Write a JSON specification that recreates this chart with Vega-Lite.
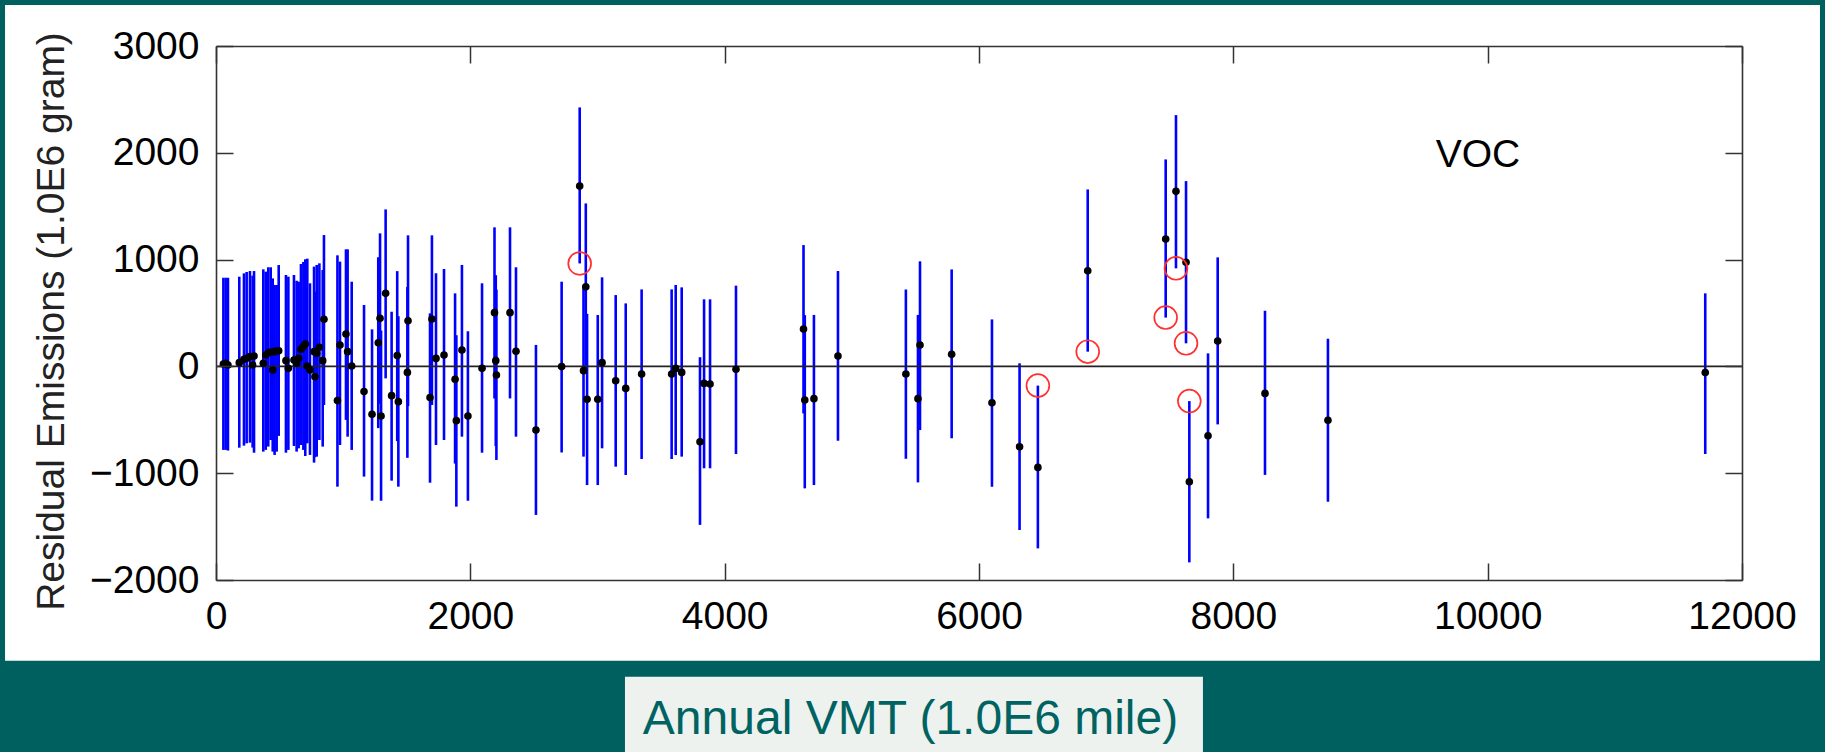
{
  "$schema": "https://vega.github.io/schema/vega-lite/v6.json",
  "width": 1526,
  "height": 534,
  "autosize": {"type": "none"},
  "padding": {"left": 216, "top": 46, "right": 83, "bottom": 172},
  "background": "#006060",
  "config": {"view": {"stroke": null}, "font": "Liberation Sans"},
  "data": {"values": [
    {"x": 58, "y": 22, "lo": -782, "hi": 830},
    {"x": 76, "y": 29, "lo": -782, "hi": 830},
    {"x": 94, "y": 13, "lo": -788, "hi": 830},
    {"x": 183, "y": 35, "lo": -761, "hi": 840},
    {"x": 220, "y": 66, "lo": -742, "hi": 871},
    {"x": 241, "y": 76, "lo": -720, "hi": 884},
    {"x": 267, "y": 91, "lo": -714, "hi": 893},
    {"x": 288, "y": 13, "lo": -760, "hi": 850},
    {"x": 299, "y": 97, "lo": -808, "hi": 893},
    {"x": 372, "y": 29, "lo": -798, "hi": 909},
    {"x": 391, "y": 107, "lo": -782, "hi": 887},
    {"x": 411, "y": 128, "lo": -751, "hi": 928},
    {"x": 430, "y": 135, "lo": -689, "hi": 928},
    {"x": 446, "y": -34, "lo": -798, "hi": 824},
    {"x": 461, "y": 138, "lo": -829, "hi": 762},
    {"x": 477, "y": 144, "lo": -798, "hi": 762},
    {"x": 493, "y": 147, "lo": -651, "hi": 949},
    {"x": 550, "y": 54, "lo": -808, "hi": 856},
    {"x": 569, "y": -18, "lo": -782, "hi": 840},
    {"x": 613, "y": 60, "lo": -745, "hi": 856},
    {"x": 634, "y": 29, "lo": -798, "hi": 802},
    {"x": 650, "y": 76, "lo": -767, "hi": 793},
    {"x": 668, "y": 160, "lo": -736, "hi": 959},
    {"x": 687, "y": 185, "lo": -782, "hi": 978},
    {"x": 702, "y": 210, "lo": -839, "hi": 1003},
    {"x": 718, "y": 4, "lo": -720, "hi": 1009},
    {"x": 739, "y": -34, "lo": -829, "hi": 778},
    {"x": 771, "y": 138, "lo": -901, "hi": 934},
    {"x": 778, "y": -96, "lo": -850, "hi": 700},
    {"x": 792, "y": 122, "lo": -845, "hi": 950},
    {"x": 813, "y": 179, "lo": -689, "hi": 965},
    {"x": 839, "y": 54, "lo": -751, "hi": 903},
    {"x": 849, "y": 441, "lo": -361, "hi": 1230},
    {"x": 955, "y": -320, "lo": -1126, "hi": 1040},
    {"x": 975, "y": 201, "lo": -736, "hi": 981},
    {"x": 1022, "y": 303, "lo": -501, "hi": 1096},
    {"x": 1035, "y": 138, "lo": -658, "hi": 1096},
    {"x": 1067, "y": 4, "lo": -782, "hi": 793},
    {"x": 1164, "y": -236, "lo": -1032, "hi": 575},
    {"x": 1227, "y": -448, "lo": -1257, "hi": 347},
    {"x": 1276, "y": 222, "lo": -578, "hi": 1022},
    {"x": 1290, "y": 450, "lo": -350, "hi": 1246},
    {"x": 1298, "y": -464, "lo": -1258, "hi": 336},
    {"x": 1334, "y": 684, "lo": -112, "hi": 1470},
    {"x": 1381, "y": -274, "lo": -1070, "hi": 512},
    {"x": 1425, "y": 101, "lo": -700, "hi": 892},
    {"x": 1434, "y": -330, "lo": -1126, "hi": 470},
    {"x": 1505, "y": -56, "lo": -856, "hi": 744},
    {"x": 1510, "y": 428, "lo": -372, "hi": 1227},
    {"x": 1683, "y": -292, "lo": -1089, "hi": 497},
    {"x": 1698, "y": 444, "lo": -361, "hi": 1227},
    {"x": 1730, "y": 75, "lo": -736, "hi": 872},
    {"x": 1793, "y": 107, "lo": -689, "hi": 912},
    {"x": 1880, "y": -121, "lo": -910, "hi": 684},
    {"x": 1890, "y": -508, "lo": -1313, "hi": 292},
    {"x": 1934, "y": 154, "lo": -658, "hi": 950},
    {"x": 1981, "y": -464, "lo": -1258, "hi": 329},
    {"x": 2092, "y": -18, "lo": -808, "hi": 778},
    {"x": 2190, "y": 503, "lo": -300, "hi": 1302},
    {"x": 2200, "y": 54, "lo": -746, "hi": 854},
    {"x": 2205, "y": -81, "lo": -876, "hi": 719},
    {"x": 2312, "y": 503, "lo": -300, "hi": 1302},
    {"x": 2359, "y": 141, "lo": -658, "hi": 928},
    {"x": 2516, "y": -595, "lo": -1391, "hi": 201},
    {"x": 2718, "y": -2, "lo": -806, "hi": 793},
    {"x": 2860, "y": 1688, "lo": 964, "hi": 2425, "c": 964},
    {"x": 2890, "y": -40, "lo": -845, "hi": 760},
    {"x": 2908, "y": 746, "lo": -34, "hi": 1526},
    {"x": 2918, "y": -308, "lo": -1111, "hi": 492},
    {"x": 3002, "y": -308, "lo": -1111, "hi": 481},
    {"x": 3036, "y": 35, "lo": -767, "hi": 834},
    {"x": 3143, "y": -134, "lo": -939, "hi": 668},
    {"x": 3222, "y": -206, "lo": -1017, "hi": 590},
    {"x": 3347, "y": -72, "lo": -867, "hi": 721},
    {"x": 3583, "y": -72, "lo": -867, "hi": 721},
    {"x": 3615, "y": -19, "lo": -830, "hi": 762},
    {"x": 3662, "y": -56, "lo": -845, "hi": 740},
    {"x": 3806, "y": -705, "lo": -1484, "hi": 86},
    {"x": 3838, "y": -159, "lo": -954, "hi": 628},
    {"x": 3885, "y": -165, "lo": -954, "hi": 628},
    {"x": 4089, "y": -27, "lo": -820, "hi": 756},
    {"x": 4620, "y": 350, "lo": -440, "hi": 1136},
    {"x": 4630, "y": -315, "lo": -1142, "hi": 480},
    {"x": 4702, "y": -302, "lo": -1111, "hi": 482},
    {"x": 4891, "y": 97, "lo": -696, "hi": 893},
    {"x": 5425, "y": -71, "lo": -865, "hi": 720},
    {"x": 5520, "y": -302, "lo": -1086, "hi": 482},
    {"x": 5536, "y": 200, "lo": -596, "hi": 984},
    {"x": 5785, "y": 113, "lo": -673, "hi": 908},
    {"x": 6102, "y": -340, "lo": -1127, "hi": 440},
    {"x": 6319, "y": -752, "lo": -1532, "hi": 29},
    {"x": 6463, "y": -946, "lo": -1704, "hi": -180, "c": -180},
    {"x": 6855, "y": 896, "lo": 138, "hi": 1657, "c": 138},
    {"x": 7468, "y": 1193, "lo": 457, "hi": 1938, "c": 457},
    {"x": 7549, "y": 1639, "lo": 918, "hi": 2353, "c": 918},
    {"x": 7628, "y": 975, "lo": 216, "hi": 1735, "c": 216},
    {"x": 7654, "y": -1080, "lo": -1835, "hi": -325, "c": -325},
    {"x": 7801, "y": -649, "lo": -1423, "hi": 122},
    {"x": 7877, "y": 238, "lo": -543, "hi": 1021},
    {"x": 8249, "y": -253, "lo": -1016, "hi": 521},
    {"x": 8744, "y": -504, "lo": -1267, "hi": 259},
    {"x": 11711, "y": -57, "lo": -820, "hi": 684}
  ]},
  "layer": [
    {
      "data": {"values": [{}]},
      "mark": {"type": "rect", "fill": "#ffffff", "clip": false},
      "encoding": {
        "x": {"datum": -1659, "type": "quantitative", "scale": {"domain": [0, 12000], "nice": false, "zero": false}, "axis": null},
        "x2": {"datum": 12613},
        "y": {"datum": 3384, "type": "quantitative", "scale": {"domain": [-2000, 3000], "nice": false, "zero": false}, "axis": null},
        "y2": {"datum": -2756}
      }
    },
    {
      "data": {"values": [{}]},
      "mark": {"type": "rect", "fill": "#edf2ef", "clip": false},
      "encoding": {
        "x": {"datum": 3216, "type": "quantitative", "scale": {"domain": [0, 12000], "nice": false, "zero": false}, "axis": null},
        "x2": {"datum": 7761},
        "y": {"datum": -2905, "type": "quantitative", "scale": {"domain": [-2000, 3000], "nice": false, "zero": false}, "axis": null},
        "y2": {"datum": -3700}
      }
    },
    {
      "mark": {"type": "rule", "color": "#0000ff", "strokeWidth": 2.6},
      "encoding": {
        "x": {"field": "x", "type": "quantitative", "scale": {"domain": [0, 12000], "nice": false, "zero": false},
          "axis": {"orient": "bottom", "zindex": 2, "values": [0, 2000, 4000, 6000, 8000, 10000, 12000], "format": "d", "grid": false,
            "tickSize": -17, "tickColor": "#333333", "tickWidth": 1.5, "domainColor": "#333333", "domainWidth": 1.6,
            "labelPadding": 34, "labelFontSize": 39, "labelFont": "Liberation Sans", "labelColor": "#000000", "labelFlush": false, "labelOverlap": false,
            "title": "Annual VMT (1.0E6 mile)", "titleFontSize": 48, "titleFont": "Liberation Sans", "titleFontWeight": "normal", "titleColor": "#006361",
            "titleX": 694, "titleY": 153, "titleAlign": "center", "titleBaseline": "alphabetic"}},
        "y": {"field": "lo", "type": "quantitative", "scale": {"domain": [-2000, 3000], "nice": false, "zero": false},
          "axis": {"orient": "left", "zindex": 2, "values": [-2000, -1000, 0, 1000, 2000, 3000], "format": "d", "grid": false,
            "tickSize": -17, "tickColor": "#333333", "tickWidth": 1.5, "domainColor": "#333333", "domainWidth": 1.6,
            "labelPadding": 34, "labelFontSize": 39, "labelFont": "Liberation Sans", "labelColor": "#000000", "labelOverlap": false, "labelFlush": false,
            "title": "Residual Emissions (1.0E6 gram)", "titleFontSize": 39, "titleFont": "Liberation Sans", "titleFontWeight": "normal", "titleColor": "#222222",
            "titleX": -153, "titleY": 275, "titleAngle": 270, "titleAlign": "center", "titleBaseline": "alphabetic"}},
        "y2": {"field": "hi"}
      }
    },
    {
      "data": {"values": [{}]},
      "mark": {"type": "rule", "color": "#222222", "strokeWidth": 1.8},
      "encoding": {
        "y": {"datum": 0, "type": "quantitative", "scale": {"domain": [-2000, 3000], "nice": false, "zero": false}, "axis": null}
      }
    },
    {
      "mark": {"type": "circle", "color": "#000000", "size": 58, "opacity": 1},
      "encoding": {
        "x": {"field": "x", "type": "quantitative", "scale": {"domain": [0, 12000], "nice": false, "zero": false},
          "axis": {"orient": "top", "zindex": 2, "values": [0, 2000, 4000, 6000, 8000, 10000, 12000], "labels": false, "grid": false, "title": null,
            "tickSize": -17, "tickColor": "#333333", "tickWidth": 1.5, "domainColor": "#333333", "domainWidth": 1.6}},
        "y": {"field": "y", "type": "quantitative", "scale": {"domain": [-2000, 3000], "nice": false, "zero": false},
          "axis": {"orient": "right", "zindex": 2, "values": [-2000, -1000, 0, 1000, 2000, 3000], "labels": false, "grid": false, "title": null,
            "tickSize": -17, "tickColor": "#333333", "tickWidth": 1.5, "domainColor": "#333333", "domainWidth": 1.6}}
      }
    },
    {
      "transform": [{"filter": "datum.c != null"}],
      "mark": {"type": "point", "shape": "circle", "filled": false, "stroke": "#ff3030", "strokeWidth": 1.7, "size": 520, "opacity": 1},
      "encoding": {
        "x": {"field": "x", "type": "quantitative", "scale": {"domain": [0, 12000], "nice": false, "zero": false}, "axis": null},
        "y": {"field": "c", "type": "quantitative", "scale": {"domain": [-2000, 3000], "nice": false, "zero": false}, "axis": null}
      }
    },
    {
      "data": {"values": [{}]},
      "mark": {"type": "text", "text": "VOC", "font": "Liberation Sans", "fontSize": 39, "color": "#000000", "align": "center", "baseline": "middle"},
      "encoding": {
        "x": {"datum": 9924, "type": "quantitative", "scale": {"domain": [0, 12000], "nice": false, "zero": false}, "axis": null},
        "y": {"datum": 1980, "type": "quantitative", "scale": {"domain": [-2000, 3000], "nice": false, "zero": false}, "axis": null}
      }
    }
  ],
  "resolve": {"axis": {"x": "independent", "y": "independent"}}
}
